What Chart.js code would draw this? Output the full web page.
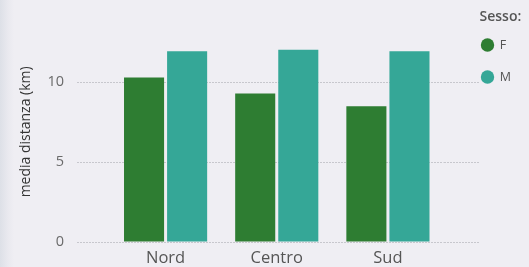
<!DOCTYPE html>
<html>
<head>
<meta charset="utf-8">
<script src="https://cdn.jsdelivr.net/npm/chart.js@4"></script>
<style>
  html, body { margin: 0; padding: 0; }
  body {
    width: 529px; height: 267px; overflow: hidden;
    background: linear-gradient(to right, #dde0e7 0px, #e9e9ef 8px, #efeef3 14px, #efeef3 100%);
  }
  #wrap { position: relative; width: 529px; height: 267px; }
</style>
</head>
<body>
<div id="wrap"><canvas id="chart"></canvas></div>
<script>
const categories = ["Nord", "Centro", "Sud"];
const seriesNames = ["F", "M"];
const valuesF = [10.3, 9.3, 8.5];
const valuesM = [11.95, 12.05, 11.95];
const yTicks = [0, 5, 10];

const COLORS = ["#2e7d32", "#35a797"];
const GRID = "rgba(150,150,160,0.45)";
const FONT = "'Open Sans', 'Noto Sans', sans-serif";

const Y_MAX = 13.8;

new Chart(document.getElementById("chart"), {
    type: "bar",
    data: {
        labels: categories,
        datasets: [
            { label: seriesNames[0], data: valuesF, backgroundColor: COLORS[0] },
            { label: seriesNames[1], data: valuesM, backgroundColor: COLORS[1] }
        ]
    },
    options: {
        responsive: true,
        maintainAspectRatio: false,
        animation: false,
        categoryPercentage: 0.775,
        barPercentage: 0.93,
        layout: { padding: { top: 8, right: 8, bottom: -6.8, left: 0 } },
        plugins: {
            tooltip: { enabled: false },
            legend: {
                position: "right",
                align: "start",
                title: {
                    display: true,
                    text: "Sesso:",
                    position: "start",
                    color: "#555",
                    font: { family: FONT, size: 14, weight: "600" },
                    padding: { top: 2, bottom: 10 }
                },
                labels: {
                    usePointStyle: true,
                    pointStyle: "circle",
                    boxWidth: 12,
                    boxHeight: 9.5,
                    padding: 2,
                    color: "#555",
                    font: { family: FONT, size: 12.5, lineHeight: "30px" },
                    generateLabels(chart) {
                        return chart.data.datasets.map((ds, i) => ({
                            text: [ds.label],
                            fillStyle: ds.backgroundColor,
                            strokeStyle: ds.backgroundColor,
                            lineWidth: 0,
                            pointStyle: "circle",
                            fontColor: "#555",
                            datasetIndex: i,
                            hidden: false
                        }));
                    }
                }
            }
        },
        scales: {
            x: {
                offset: true,
                grid: { display: false, drawTicks: false },
                border: { display: false },
                ticks: { color: "#555", padding: 6, font: { family: FONT, size: 16.5 } }
            },
            y: {
                min: 0,
                max: Y_MAX,
                afterBuildTicks(scale) { scale.ticks = yTicks.map(v => ({ value: v })); },
                afterFit(scale) { scale.width = 110; },
                grid: { color: GRID, tickColor: GRID, tickLength: 33, tickBorderDash: [2, 1] },
                border: { display: false, dash: [2, 1] },
                ticks: { color: "#6a6a6a", padding: 13, font: { family: FONT, size: 14.5 } },
                title: {
                    display: true,
                    text: "media distanza (km)",
                    color: "#333",
                    font: { family: FONT, size: 14 },
                    padding: { top: 18, bottom: 0 }
                }
            },
            y2: {
                position: "right",
                min: 0,
                max: Y_MAX,
                afterBuildTicks(scale) { scale.ticks = yTicks.map(v => ({ value: v })); },
                afterFit(scale) { scale.width = 36; },
                grid: { drawOnChartArea: false, color: GRID, tickColor: GRID, tickLength: 36, tickBorderDash: [2, 1] },
                border: { display: false },
                ticks: { display: false }
            }
        }
    }
});
</script>
</body>
</html>
